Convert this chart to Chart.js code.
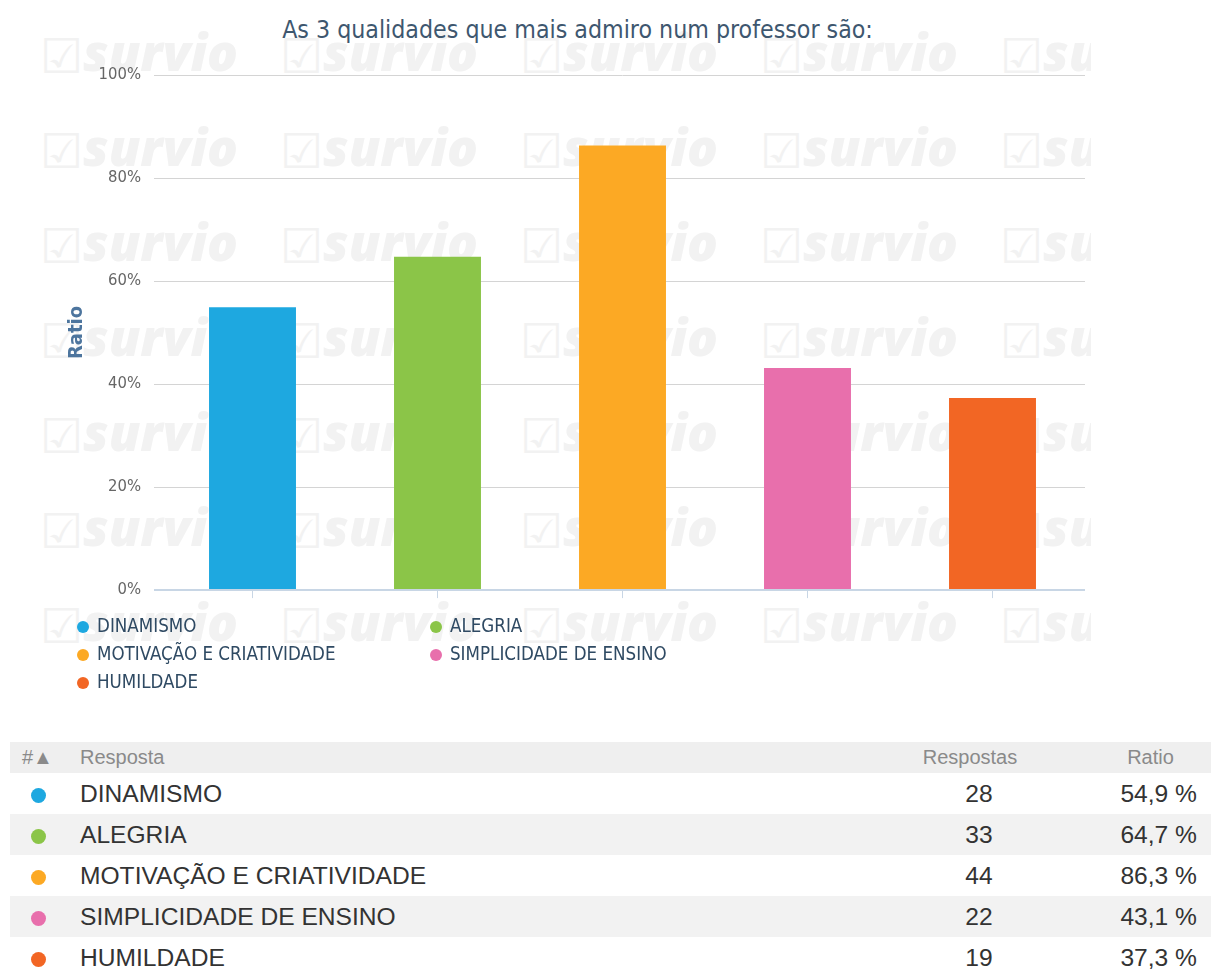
<!DOCTYPE html>
<html>
<head>
<meta charset="utf-8">
<script src="https://cdn.jsdelivr.net/npm/chart.js@4.4.1/dist/chart.umd.min.js"></script>
<style>
  body { margin:0; background:#fff; width:1211px; height:975px; overflow:hidden; position:relative; }
  #caixa { position:absolute; left:0; top:0; width:1091px; height:700px; overflow:hidden; }
  #marca { position:absolute; left:0; top:0; width:1091px; height:700px; }
  .wm { position:absolute; color:#f2f2f2; white-space:nowrap; line-height:1; }
  .wm .ck { font-family:"DejaVu Sans"; font-size:48px; vertical-align:-2px; }
  .wm .tx { font-family:"Open Sans"; font-weight:800; font-style:italic; font-size:51px; }
  #titulo { position:absolute; left:0; top:15px; width:1155px; text-align:center;
            font-family:"DejaVu Sans Condensed","DejaVu Sans"; font-size:24.7px; color:#3e576f; }
  #grafico { position:absolute; left:0; top:0; }
  #legenda { position:absolute; left:77px; top:612px; width:720px; }
  .li { display:inline-block; width:353px; height:28px; line-height:28px; vertical-align:top;
        font-family:"DejaVu Sans Condensed","DejaVu Sans"; font-size:18.6px; color:#2f4a63; white-space:nowrap; }
  .li i { display:inline-block; width:12px; height:12px; border-radius:50%; margin:0 8px 0 0; vertical-align:-1px; }
  #tabela { position:absolute; left:10px; top:742px; width:1201px; border-collapse:collapse; table-layout:fixed;
            font-family:"Liberation Sans",Arial,sans-serif; }
  #tabela th { height:31px; background:#efefef; color:#8a8a8a; font-weight:normal; font-size:20px; padding:0; }
  #tabela td { height:41px; padding:0; font-size:24.6px; color:#333; }
  #tabela tr.par td { background:#f2f2f2; }
  .dot { display:inline-block; width:15px; height:15px; border-radius:50%; margin-left:21px; vertical-align:middle; }
</style>
</head>
<body>
<div id="caixa">
  <div id="marca"></div>
  <div id="titulo">As 3 qualidades que mais admiro num professor são:</div>
  <canvas id="grafico" width="1091" height="613"></canvas>
  <div id="legenda"></div>
</div>
<table id="tabela">
  <colgroup><col style="width:60px"><col style="width:820px"><col style="width:180px"><col style="width:141px"></colgroup>
  <thead><tr>
    <th style="text-align:left;padding-left:12px">#&#9650;</th>
    <th style="text-align:left;padding-left:10px">Resposta</th>
    <th style="text-align:center;padding-right:20px">Respostas</th>
    <th style="text-align:center;padding-left:20px">Ratio</th>
  </tr></thead>
  <tbody id="corpo"></tbody>
</table>
<script>
// dados
var categorias = ['DINAMISMO', 'ALEGRIA', 'MOTIVAÇÃO E CRIATIVIDADE', 'SIMPLICIDADE DE ENSINO', 'HUMILDADE'];
var respostas  = [28, 33, 44, 22, 19];
var ratios     = [54.9, 64.7, 86.3, 43.1, 37.3];
var cores      = ['#1ea8e0', '#8bc548', '#fca924', '#e86fac', '#f26624'];
var yMin = 0, yMax = 100, yPasso = 20;

var fonteCond = '"DejaVu Sans Condensed", "DejaVu Sans", sans-serif';

// marca d'água
var marca = document.getElementById('marca');
for (var r = 0; r < 7; r++) {
  for (var c = 0; c < 5; c++) {
    var w = document.createElement('div');
    w.className = 'wm';
    w.style.left = (40 + c * 240) + 'px';
    w.style.top = (26 + r * 95) + 'px';
    w.innerHTML = '<span class="ck">&#9745;</span><span class="tx">survio</span>';
    marca.appendChild(w);
  }
}

var chart = new Chart(document.getElementById('grafico'), {
  type: 'bar',
  data: {
    labels: categorias,
    datasets: [{ label: 'Ratio', data: ratios, backgroundColor: cores, borderWidth: 0,
                 categoryPercentage: 1, barPercentage: 0.47 }]
  },
  options: {
    responsive: false, animation: false,
    layout: { padding: { top: 75, right: 6, bottom: 3, left: 0 } },
    plugins: { legend: { display: false }, tooltip: { enabled: false }, title: { display: false } },
    scales: {
      x: {
        grid: { offset: false, drawOnChartArea: false, drawTicks: true, tickLength: 8, color: '#c8d6e5' },
        border: { display: false },
        ticks: { display: false }
      },
      y: {
        min: yMin, max: yMax,
        ticks: { stepSize: yPasso, padding: 13, color: '#666',
                 font: { family: fonteCond, size: 16.5 },
                 callback: function(v) { return v + '%'; } },
        grid: { tickLength: 6,
                color: function(ctx) { return ctx.tick && ctx.tick.value === 0 ? '#c8d6e5' : '#d4d4d4'; },
                lineWidth: function(ctx) { return ctx.tick && ctx.tick.value === 0 ? 2 : 1; } },
        border: { display: false },
        title: { display: true, text: 'Ratio', color: '#4d759e',
                 font: { family: fonteCond, size: 20, weight: 'bold' }, padding: { top: 65, bottom: 0 } },
        afterFit: function(s) { s.width = 160; }
      }
    }
  }
});

// legenda
var leg = document.getElementById('legenda');
categorias.forEach(function(nome, i) {
  leg.innerHTML += '<span class="li"><i style="background:' + cores[i] + '"></i>' + nome + '</span>';
});

// tabela
var corpo = document.getElementById('corpo');
categorias.forEach(function(nome, i) {
  var tr = document.createElement('tr');
  if (i % 2 === 1) tr.className = 'par';
  tr.innerHTML = '<td><span class="dot" style="background:' + cores[i] + '"></span></td>' +
    '<td style="padding-left:10px">' + nome + '</td>' +
    '<td style="text-align:center;padding-right:2px">' + respostas[i] + '</td>' +
    '<td style="text-align:right;padding-right:14px">' + ratios[i].toFixed(1).replace('.', ',') + ' %</td>';
  corpo.appendChild(tr);
});
</script>
</body>
</html>
